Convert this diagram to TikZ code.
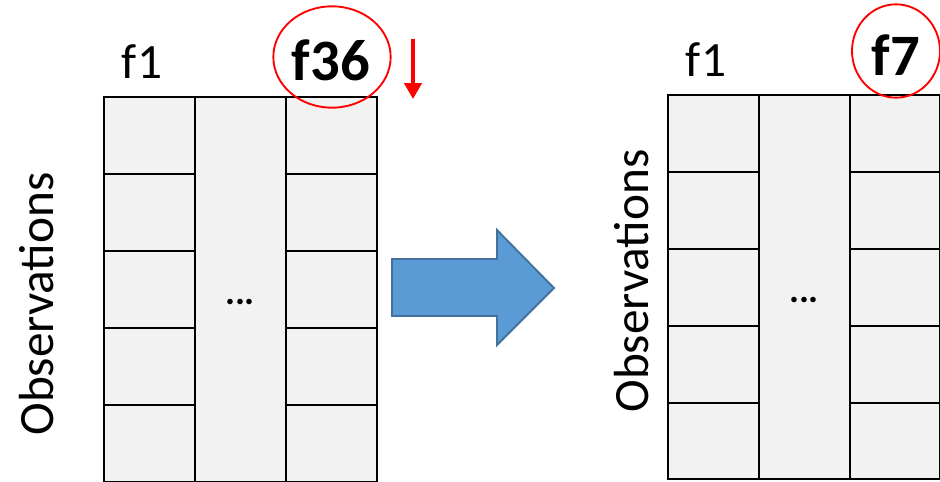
\documentclass[tikz,border=0pt]{standalone}
\usepackage{fontspec}
\setmainfont{Carlito}
\usetikzlibrary{arrows.meta}
\definecolor{gridgray}{HTML}{F2F2F2}
\definecolor{arrowblue}{HTML}{5B9BD5}
\definecolor{arrowedge}{HTML}{41719C}
\begin{document}
\begin{tikzpicture}[x=0.75pt,y=-0.75pt,
  cell/.style={draw=black,line width=1.7pt,fill=gridgray},
  lbl/.style={font=\fontsize{37}{40}\selectfont,inner sep=0pt},
  big/.style={font=\bfseries\fontsize{44}{48}\selectfont,inner sep=0pt},
  dots/.style={font=\bfseries\fontsize{28}{32}\selectfont,inner sep=0pt},
  mark circle/.style={draw=red,line width=1.4pt},
  blockarrow/.style={fill=arrowblue,draw=arrowedge,line width=1.4pt,line join=miter}]
\useasboundingbox (0,0) rectangle (940,482);
% left grid
\foreach \ya/\yb in {97/174,174/251,251/328,328/405,405/482}{
  \draw[cell] (104,\ya) rectangle (195,\yb);
  \draw[cell] (286,\ya) rectangle (377,\yb);
}
\draw[cell] (195,97) rectangle (286,482);
\node[dots] (dl) at (240,302) {...};
% right grid
\foreach \ya/\yb in {95/172,172/249,249/326,326/403,403/479}{
  \draw[cell] (668,\ya) rectangle (759,\yb);
  \draw[cell] (850,\ya) rectangle (940,\yb);
}
\draw[cell] (759,95) rectangle (850,479);
\node[dots] (dr) at (804,300) {...};
% labels
\node[lbl] (f1l) at (142,62) {f1};
\node[big] (f36) at (331,60) {f36};
\draw[mark circle] (332,57) ellipse [x radius=44pt, y radius=38pt];
\node[lbl] (f1r) at (706,60) {f1};
\node[big] (f7) at (896,55) {f7};
\draw[mark circle] (896,51) ellipse [x radius=33pt, y radius=35pt];
\node[lbl,rotate=90] (obsl) at (37,304) {Observations};
\node[lbl,rotate=90] (obsr) at (632,281) {Observations};
% red arrow
\coordinate (ra) at (413,39);
\coordinate (rb) at (413,99);
\draw[red,line width=2.5pt,-{Triangle[length=12pt,width=13pt]}] (ra) -- (rb);
% block arrow
\draw[blockarrow] (392,259) -- (497,259) -- (497,230) -- (554,288) -- (497,345) -- (497,316) -- (392,316) -- cycle;
\end{tikzpicture}
\end{document}
